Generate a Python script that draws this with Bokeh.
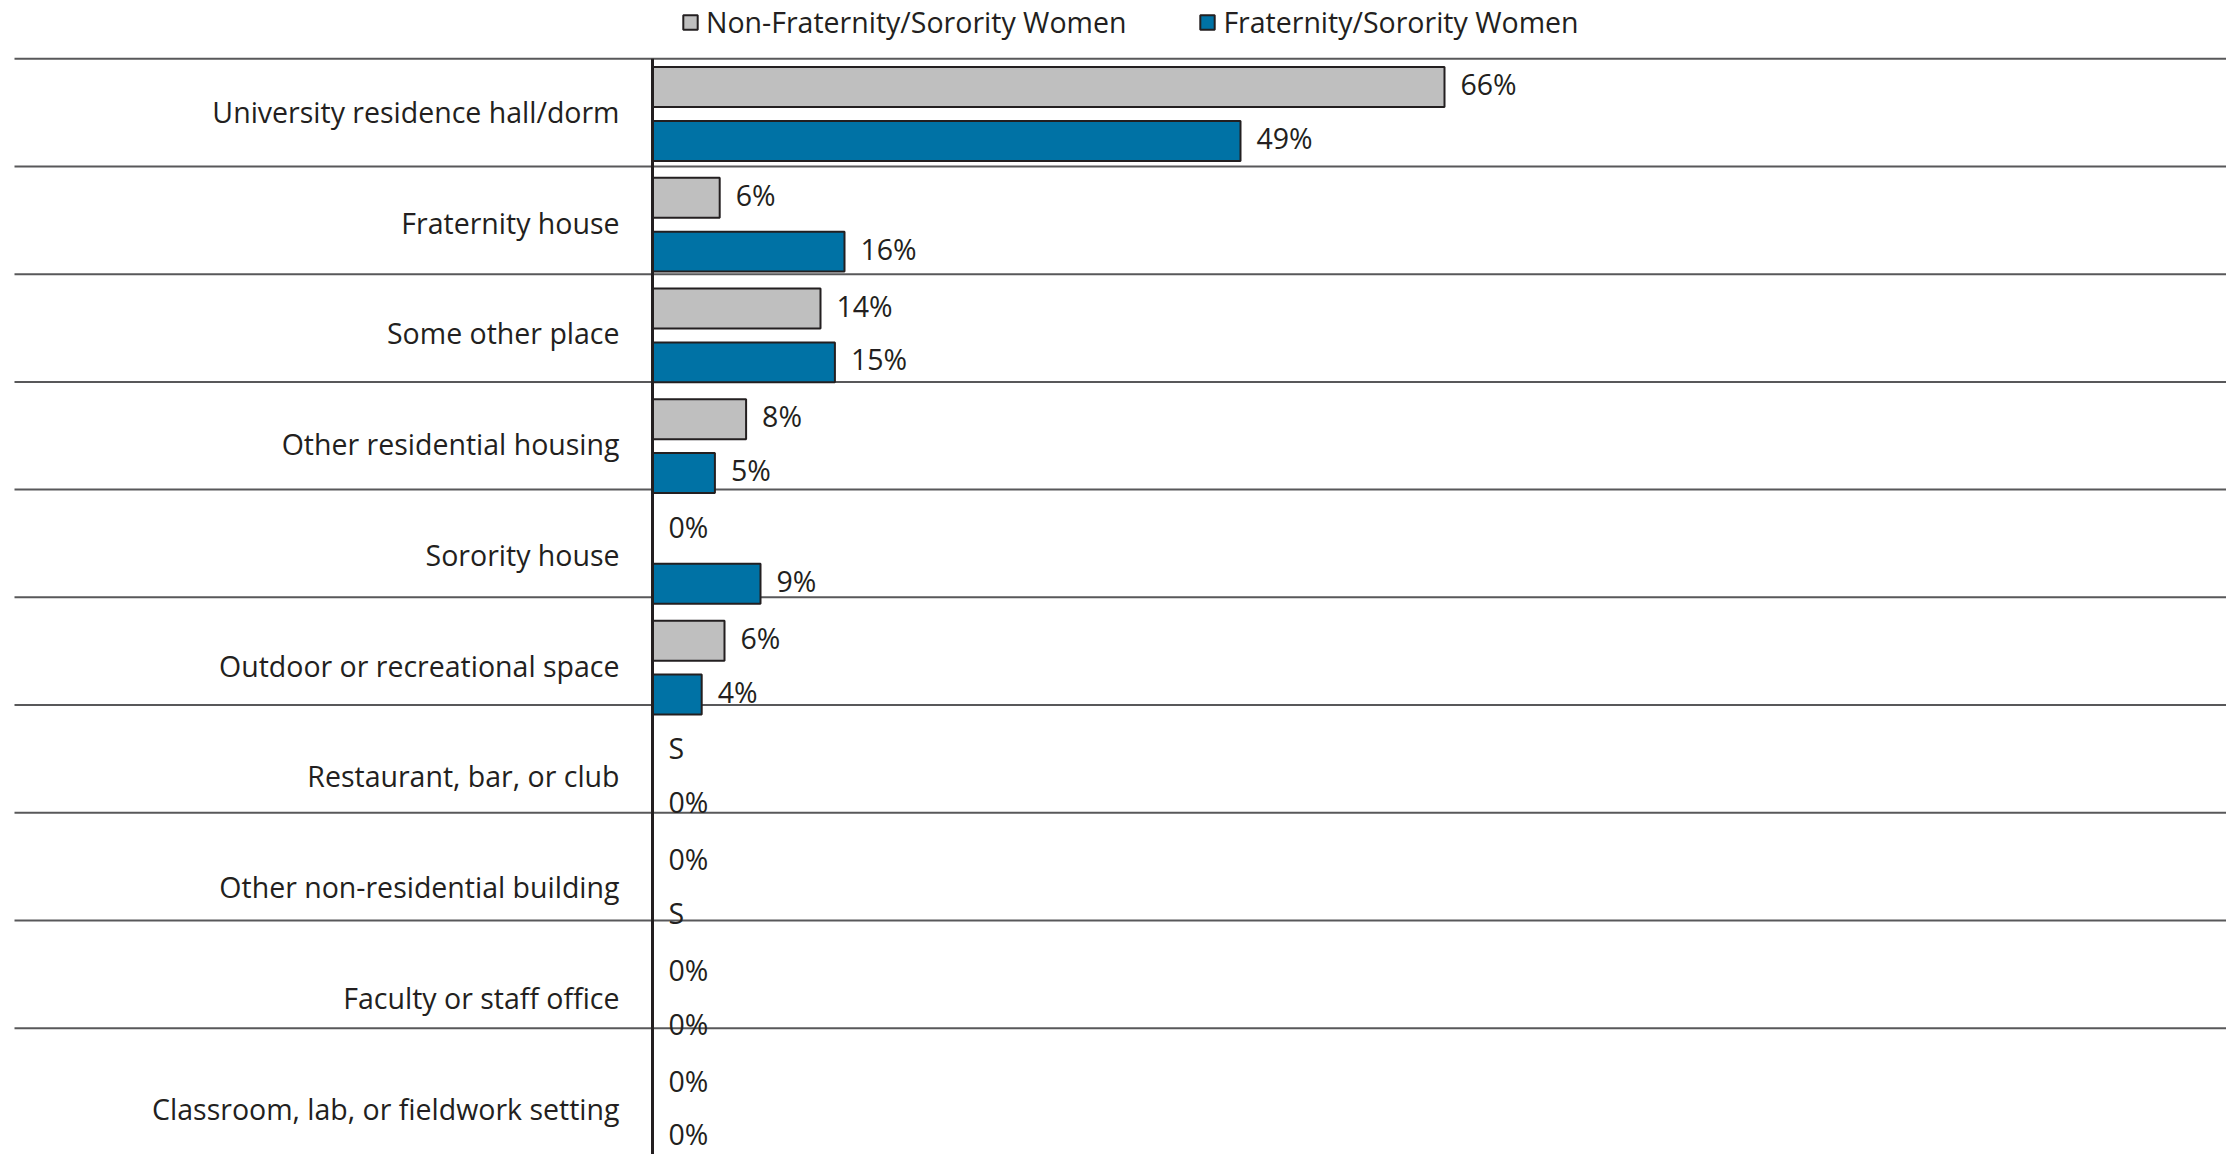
from bokeh.plotting import figure
from bokeh.models import Range1d, ColumnDataSource, Legend, LegendItem
from bokeh.core.properties import value
from bokeh.embed import file_html
from bokeh.resources import INLINE

categories = [
    "University residence hall/dorm",
    "Fraternity house",
    "Some other place",
    "Other residential housing",
    "Sorority house",
    "Outdoor or recreational space",
    "Restaurant, bar, or club",
    "Other non-residential building",
    "Faculty or staff office",
    "Classroom, lab, or fieldwork setting",
]
series_names = ["Non-Fraternity/Sorority Women", "Fraternity/Sorority Women"]
non_frat = [66, 5.6, 14, 7.8, 0, 6, 0, 0, 0, 0]
frat = [49, 16, 15.2, 5.2, 9, 4.1, 0, 0, 0, 0]
non_frat_labels = ["66%", "6%", "14%", "8%", "0%", "6%", "S", "0%", "0%", "0%"]
frat_labels = ["49%", "16%", "15%", "5%", "9%", "4%", "0%", "S", "0%", "0%"]

FONT = "Open Sans"
FS = "28.5px"
TXT = "#231f20"
GRAY = "#bfbfbf"
BLUE = "#0072a5"

W, H = 2226, 1154
px_per_pct = 12.0
axis_px = 652
cat_px = 110.73
first_center_px = 113.5

x0 = -axis_px / px_per_pct
x1 = (W - axis_px) / px_per_pct
y_top = -first_center_px / cat_px
y_bot = (H - first_center_px) / cat_px

p = figure(width=W, height=H, output_backend="svg", toolbar_location=None,
           x_range=Range1d(x0, x1), y_range=Range1d(y_bot, y_top),
           x_axis_type=None, y_axis_type=None, min_border=0)
p.xgrid.visible = False
p.ygrid.visible = False
p.outline_line_color = None
p.background_fill_color = "white"
p.border_fill_color = "white"

n = len(categories)
idx = list(range(n))
off = 0.243
bh = 0.361

# separators (drawn slightly tighter than category pitch, as in the source)
sep_step = 0.9729
sep_start = -0.4994
sep_y = [sep_start + sep_step * k for k in range(n)]
p.segment(x0=[x0 + 14 / px_per_pct] * n, x1=[x1 + 1] * n, y0=sep_y, y1=sep_y,
          line_color="#58585a", line_width=2)

src_g = ColumnDataSource(dict(y=[i - off for i in idx], v=non_frat, lab=non_frat_labels))
src_b = ColumnDataSource(dict(y=[i + off for i in idx], v=frat, lab=frat_labels))

rg = p.hbar(y="y", left=0, right="v", height=bh, source=src_g,
            fill_color=GRAY, line_color=TXT, line_width=2)
rb = p.hbar(y="y", left=0, right="v", height=bh, source=src_b,
            fill_color=BLUE, line_color=TXT, line_width=2)

# vertical axis line
p.segment(x0=[0], x1=[0], y0=[sep_y[0]], y1=[y_bot + 1], line_color=TXT, line_width=3)

for src in (src_g, src_b):
    p.text(x="v", y="y", text="lab", source=src, x_offset=16, y_offset=-3,
           text_font=value(FONT), text_font_size=FS, text_color=TXT,
           text_align="left", text_baseline="middle")

src_c = ColumnDataSource(dict(y=idx, x=[0] * n, lab=categories))
p.text(x="x", y="y", text="lab", source=src_c, x_offset=-33, y_offset=-2,
       text_font=value(FONT), text_font_size=FS, text_color=TXT,
       text_align="right", text_baseline="middle")

legend = Legend(items=[LegendItem(label=series_names[0], renderers=[rg]),
                       LegendItem(label=series_names[1], renderers=[rb])],
                orientation="horizontal", location=(681, H - 41),
                label_text_font=FONT, label_text_font_size=FS, label_text_color=TXT,
                glyph_width=18, glyph_height=18, label_standoff=7, spacing=72,
                padding=0, margin=0, border_line_color=None,
                background_fill_alpha=0)
p.add_layout(legend, "center")

open("out.html", "w").write(file_html(p, INLINE))
